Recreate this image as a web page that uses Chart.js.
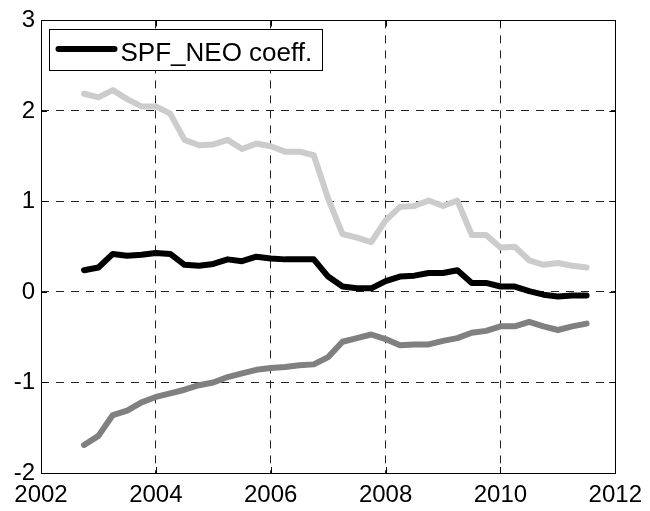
<!DOCTYPE html>
<html>
<head>
<meta charset="utf-8">
<script src="https://cdn.jsdelivr.net/npm/chart.js@4/dist/chart.umd.min.js"></script>
<style>
  html, body { margin: 0; padding: 0; background: #fff; }
  #wrap { width: 650px; height: 511px; }
</style>
</head>
<body>
<div id="wrap"><canvas id="c" width="650" height="511"></canvas></div>
<script>
// Quarterly dates (decimal years)
const dates = [2002.75, 2003.00, 2003.25, 2003.50, 2003.75, 2004.00, 2004.25, 2004.50, 2004.75,
               2005.00, 2005.25, 2005.50, 2005.75, 2006.00, 2006.25, 2006.50, 2006.75, 2007.00,
               2007.25, 2007.50, 2007.75, 2008.00, 2008.25, 2008.50, 2008.75, 2009.00, 2009.25,
               2009.50, 2009.75, 2010.00, 2010.25, 2010.50, 2010.75, 2011.00, 2011.25, 2011.50];

// Upper band (light gray)
const upperBand = [2.19, 2.15, 2.23, 2.13, 2.05, 2.05, 1.97, 1.68, 1.62,
                   1.63, 1.68, 1.58, 1.64, 1.61, 1.55, 1.55, 1.51, 1.03,
                   0.64, 0.60, 0.55, 0.79, 0.94, 0.95, 1.01, 0.95, 1.01,
                   0.63, 0.63, 0.49, 0.50, 0.35, 0.30, 0.32, 0.29, 0.27];

// SPF_NEO coefficient (black)
const spfNeoCoeff = [0.24, 0.27, 0.42, 0.40, 0.41, 0.43, 0.42, 0.30, 0.29,
                     0.31, 0.36, 0.34, 0.39, 0.37, 0.36, 0.36, 0.36, 0.17,
                     0.06, 0.04, 0.04, 0.12, 0.17, 0.18, 0.21, 0.21, 0.24,
                     0.10, 0.10, 0.06, 0.06, 0.01, -0.03, -0.05, -0.04, -0.04];

// Lower band (dark gray)
const lowerBand = [-1.69, -1.59, -1.36, -1.31, -1.22, -1.16, -1.12, -1.08, -1.03,
                   -1.00, -0.94, -0.90, -0.86, -0.84, -0.83, -0.81, -0.80, -0.72,
                   -0.55, -0.51, -0.47, -0.52, -0.59, -0.58, -0.58, -0.54, -0.51,
                   -0.45, -0.43, -0.38, -0.38, -0.33, -0.38, -0.42, -0.38, -0.35];

const xTicks = [2002, 2004, 2006, 2008, 2010, 2012];
const yTicks = [-2, -1, 0, 1, 2, 3];
const legendLabel = 'SPF_NEO coeff.';

const FONT = "'Liberation Sans', Arial, Helvetica, sans-serif";

function toPoints(vals) {
  return vals.map((v, i) => ({ x: dates[i], y: v }));
}

const lineStyle = {
  borderWidth: 6,
  pointRadius: 0,
  pointHoverRadius: 0,
  fill: false,
  tension: 0,
  borderCapStyle: 'round',
  borderJoinStyle: 'round'
};

const framePlugin = {
  id: 'frame',
  afterDatasetsDraw(chart) {
    const ctx = chart.ctx;
    const a = chart.chartArea;
    const xs = chart.scales.x, ys = chart.scales.y;
    ctx.save();
    ctx.strokeStyle = '#000';
    ctx.lineWidth = 1;
    ctx.setLineDash([]);
    // inward ticks
    const tl = 6;
    ctx.beginPath();
    xTicks.forEach(t => {
      const px = Math.round(xs.getPixelForValue(t)) + 0.5;
      ctx.moveTo(px, a.bottom); ctx.lineTo(px, a.bottom - tl);
      ctx.moveTo(px, a.top); ctx.lineTo(px, a.top + tl);
    });
    yTicks.forEach(t => {
      const py = Math.round(ys.getPixelForValue(t)) + 0.5;
      ctx.moveTo(a.left, py); ctx.lineTo(a.left + tl, py);
      ctx.moveTo(a.right, py); ctx.lineTo(a.right - tl, py);
    });
    ctx.stroke();
    // box
    ctx.strokeRect(Math.round(a.left) + 0.5, Math.round(a.top) + 0.5,
                   Math.round(a.right - a.left), Math.round(a.bottom - a.top));
    // legend
    const lx = Math.round(a.left) + 8.5, ly = Math.round(a.top) + 9.5;
    const lw = 273, lh = 41;
    ctx.fillStyle = '#fff';
    ctx.fillRect(lx, ly, lw, lh);
    ctx.strokeRect(lx, ly, lw, lh);
    ctx.beginPath();
    ctx.lineWidth = 6;
    ctx.lineCap = 'round';
    ctx.strokeStyle = '#000';
    ctx.moveTo(lx + 9, ly + 19.5);
    ctx.lineTo(lx + 65, ly + 19.5);
    ctx.stroke();
    ctx.fillStyle = '#000';
    ctx.font = '26px ' + FONT;
    ctx.textBaseline = 'alphabetic';
    ctx.textAlign = 'left';
    ctx.fillText(legendLabel, lx + 71, ly + 31);
    ctx.restore();
  }
};

new Chart(document.getElementById('c'), {
  type: 'line',
  data: {
    datasets: [
      Object.assign({ label: legendLabel, data: toPoints(spfNeoCoeff), borderColor: '#000000' }, lineStyle),
      Object.assign({ label: 'upper', data: toPoints(upperBand), borderColor: '#cccccc' }, lineStyle),
      Object.assign({ label: 'lower', data: toPoints(lowerBand), borderColor: '#808080' }, lineStyle)
    ]
  },
  options: {
    responsive: false,
    animation: false,
    devicePixelRatio: 1,
    layout: { padding: { left: 0, right: 32, top: 18, bottom: 0 } },
    plugins: { legend: { display: false }, tooltip: { enabled: false } },
    scales: {
      x: {
        type: 'linear',
        min: 2002, max: 2012,
        afterBuildTicks: s => { s.ticks = xTicks.map(v => ({ value: v })); },
        afterFit: s => { s.height = 38; },
        ticks: { color: '#000', font: { family: FONT, size: 24 }, padding: 8, maxRotation: 0,
                 callback: v => String(v) },
        grid: { color: '#222', lineWidth: 1, drawTicks: false },
        border: { display: false, dash: [8, 7] }
      },
      y: {
        type: 'linear',
        min: -2, max: 3,
        afterBuildTicks: s => { s.ticks = yTicks.map(v => ({ value: v })); },
        afterFit: s => { s.width = 41; },
        ticks: { color: '#000', font: { family: FONT, size: 24 }, padding: 6,
                 callback: v => String(v) },
        grid: { color: '#222', lineWidth: 1, drawTicks: false },
        border: { display: false, dash: [8, 7] }
      }
    }
  },
  plugins: [framePlugin]
});
</script>
</body>
</html>
